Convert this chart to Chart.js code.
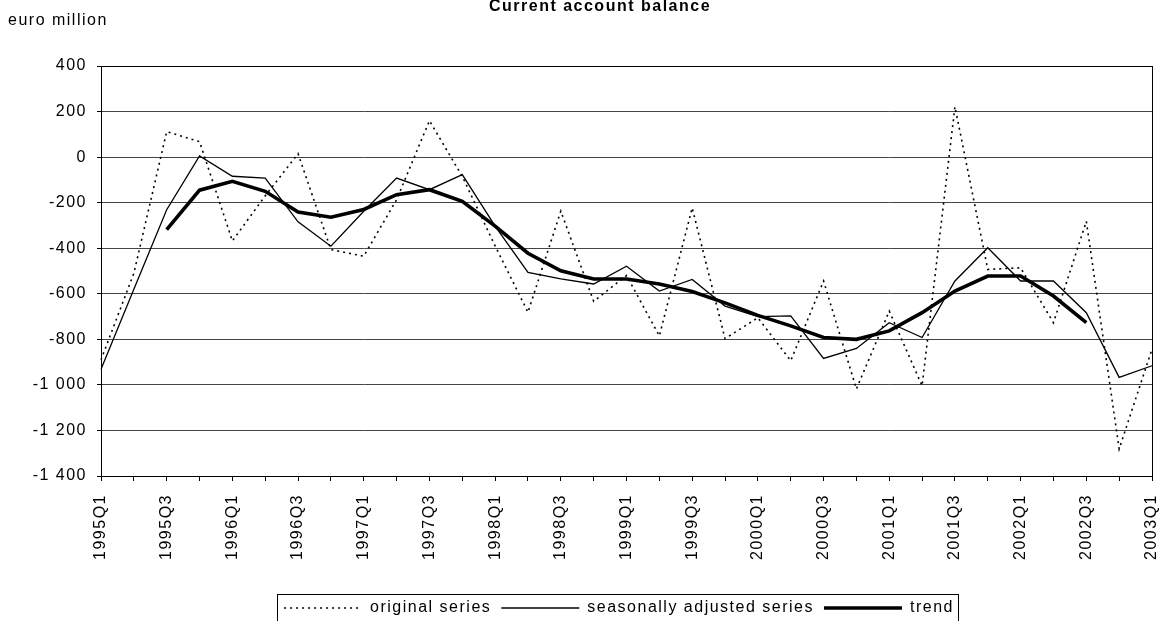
<!DOCTYPE html>
<html>
<head>
<meta charset="utf-8">
<script src="https://cdn.jsdelivr.net/npm/chart.js@4/dist/chart.umd.min.js"></script>
<style>
  html, body { margin: 0; padding: 0; background: #fff; }
  #wrap { width: 1161px; height: 621px; position: relative; }
</style>
</head>
<body>
<div id="wrap"><canvas id="cab"></canvas></div>
<script>
// quarters 1995Q1 .. 2003Q1
const quarters = [
  '1995Q1','1995Q2','1995Q3','1995Q4','1996Q1','1996Q2','1996Q3','1996Q4',
  '1997Q1','1997Q2','1997Q3','1997Q4','1998Q1','1998Q2','1998Q3','1998Q4',
  '1999Q1','1999Q2','1999Q3','1999Q4','2000Q1','2000Q2','2000Q3','2000Q4',
  '2001Q1','2001Q2','2001Q3','2001Q4','2002Q1','2002Q2','2002Q3','2002Q4',
  '2003Q1'
];
const original = [
  -890, -510, 112, 68, -368, -170, 15, -406,
  -435, -187, 160, -85, -390, -681, -237, -633,
  -520, -785, -223, -797, -705, -894, -544, -1018,
  -676, -1004, 221, -493, -486, -727, -282, -1281,
  -843
];
const seasAdj = [
  -931, -580, -231, 5, -84, -92, -284, -391,
  -238, -92, -143, -77, -303, -506, -535, -557,
  -479, -588, -537, -654, -700, -697, -884, -840,
  -727, -792, -544, -398, -544, -544, -683, -967,
  -916
];
const trend = [
  null, null, -318, -145, -106, -150, -241, -264,
  -230, -165, -143, -194, -303, -422, -499, -535,
  -535, -557, -590, -640, -695, -741, -792, -800,
  -763, -683, -588, -522, -522, -610, -727, null,
  null
];
const yTicks = [-1400, -1200, -1000, -800, -600, -400, -200, 0, 200, 400];

const FONT = 'Liberation Sans, Arial, sans-serif';
const SPACING = '1.5px';
const LEGEND_SHIFT = 43;   // legend sits right of centre in the reference

// "-1 000" style labels
function fmtNum(v) {
  const s = String(Math.abs(v)).replace(/\B(?=(\d{3})+(?!\d))/g, ' ');
  return (v < 0 ? '-' : '') + s;
}

// the reference text is drawn rather wide, so space the letters a bit
const spacing = {
  id: 'spacing',
  beforeUpdate(chart) { chart.ctx.letterSpacing = SPACING; },
  beforeDraw(chart) { chart.ctx.letterSpacing = SPACING; },
  afterLayout(chart) {
    const lg = chart.legend;
    lg.left += LEGEND_SHIFT;
    lg.right += LEGEND_SHIFT;
    lg.legendHitBoxes.forEach(h => { h.left += LEGEND_SHIFT; });
  }
};

const decor = {
  id: 'decor',
  afterDraw(chart) {
    const ctx = chart.ctx, a = chart.chartArea;
    ctx.save();
    ctx.strokeStyle = '#000';
    ctx.lineWidth = 1;
    ctx.strokeRect(a.left + 0.5, a.top + 0.5, a.right - a.left, a.bottom - a.top);

    ctx.fillStyle = '#000';
    ctx.textBaseline = 'middle';
    ctx.textAlign = 'center';
    ctx.letterSpacing = '1.5px';
    ctx.font = 'bold 16px ' + FONT;
    ctx.fillText('Current account balance', 600, 7);
    ctx.textAlign = 'left';
    ctx.letterSpacing = SPACING;
    ctx.font = '16px ' + FONT;
    ctx.fillText('euro million', 8, 21);

    // frame round the legend
    const hb = chart.legend.legendHitBoxes;
    if (hb && hb.length) {
      const last = hb[hb.length - 1];
      const l = hb[0].left - 7;
      const r = last.left + last.width + 4;
      const t = hb[0].top - 6;
      ctx.strokeRect(Math.round(l) + 0.5, Math.round(t) + 0.5, Math.round(r - l), 60);
    }
    ctx.restore();
  }
};

new Chart(document.getElementById('cab'), {
  type: 'line',
  data: {
    labels: quarters,
    datasets: [
      { label: 'original series', data: original, borderColor: '#000', borderWidth: 1.6,
        borderDash: [2, 4], pointRadius: 0, tension: 0, order: 2 },
      { label: 'seasonally adjusted series', data: seasAdj, borderColor: '#000', borderWidth: 1.3,
        pointRadius: 0, tension: 0, order: 1 },
      { label: 'trend', data: trend, borderColor: '#000', borderWidth: 3.6,
        pointRadius: 0, tension: 0, order: 0 }
    ]
  },
  options: {
    responsive: true, maintainAspectRatio: false, animation: false,
    layout: { padding: { left: 0, right: 9, top: 66, bottom: -5 } },
    plugins: {
      title: { display: false },
      tooltip: { enabled: false },
      legend: {
        position: 'bottom',
        labels: {
          usePointStyle: true, pointStyle: 'line', pointStyleWidth: 78,
          color: '#000', font: { family: FONT, size: 16 }, padding: 10,
          generateLabels(chart) {
            const items = Chart.defaults.plugins.legend.labels.generateLabels(chart);
            items.forEach(it => {
              const ds = chart.data.datasets[it.datasetIndex];
              it.lineDash = ds.borderDash || [];
              it.lineWidth = ds.borderWidth;
              it.strokeStyle = ds.borderColor;
            });
            return items;
          },
          sort: (a, b) => a.datasetIndex - b.datasetIndex
        }
      }
    },
    scales: {
      x: {
        ticks: {
          autoSkip: false, minRotation: 90, maxRotation: 90, padding: 13,
          color: '#000', font: { family: FONT, size: 16 },
          callback: function (v, i) { return i % 2 === 0 ? this.getLabelForValue(v) : ''; }
        },
        grid: { drawOnChartArea: false, tickLength: 5, color: '#000' },
        border: { color: '#000' },
        afterFit: s => { s.height = 114; s.paddingLeft = 0; s.paddingRight = 0; }
      },
      y: {
        min: -1400, max: 400,
        afterBuildTicks: s => { s.ticks = yTicks.map(v => ({ value: v })); },
        ticks: { color: '#000', font: { family: FONT, size: 16 }, padding: 10, callback: v => fmtNum(v) },
        grid: { color: '#444', tickLength: 4, tickColor: '#000' },
        border: { color: '#000' },
        afterFit: s => { s.width = 101; }
      }
    }
  },
  plugins: [spacing, decor]
});
</script>
</body>
</html>
